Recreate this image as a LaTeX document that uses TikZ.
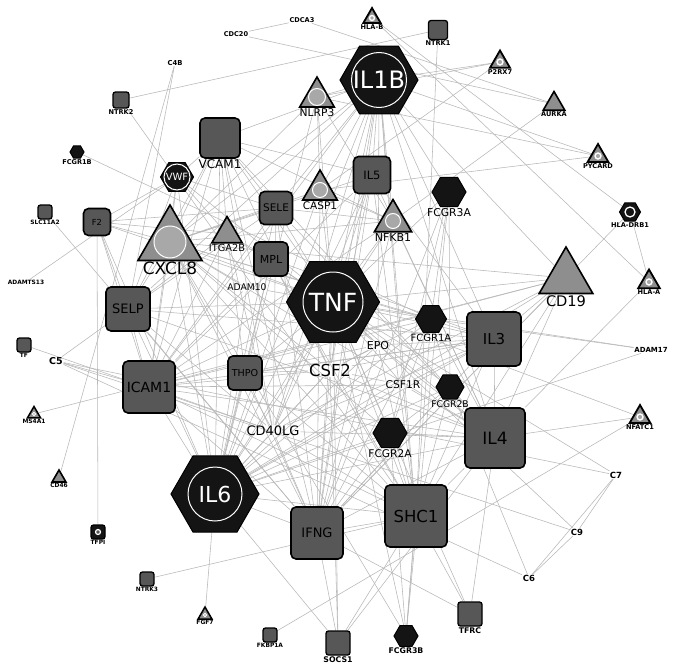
\documentclass[tikz,border=0pt]{standalone}
\usepackage{fontspec}
\setmainfont{DejaVu Sans}
\usetikzlibrary{shapes.geometric, backgrounds}

\newcommand{\fsz}[1]{\fontsize{#1}{#1}\selectfont}
\definecolor{hexblk}{HTML}{141414}
\definecolor{sqgray}{HTML}{575757}
\definecolor{trigray}{HTML}{8E8E8E}
\definecolor{spotgray}{HTML}{A8A8A8}
\definecolor{linkgray}{HTML}{B8B8B8}

\begin{document}
\begin{tikzpicture}[
    x=1pt, y=-1pt,
    link/.style={draw=linkgray, line width=0.55pt},
    hexa/.style={
        regular polygon,
        regular polygon sides=6,
        fill=hexblk,
        draw=black,
        line width=1pt,
        inner sep=0pt,
        minimum size=#1
    },
    sq/.style={
        rectangle,
        rounded corners=5pt,
        fill=sqgray,
        draw=black,
        line width=1.6pt,
        inner sep=0pt,
        minimum size=#1
    },
    sqs/.style={sq=#1, rounded corners=2.5pt, line width=1.3pt},
    tri/.style={
        regular polygon,
        regular polygon sides=3,
        fill=trigray,
        draw=black,
        line width=1.6pt,
        inner sep=0pt,
        minimum size=#1
    },
    ring/.style={circle, draw=white, line width=1pt, fill=spotgray, inner sep=0pt, minimum size=#1},
    spot/.style={circle, draw=white, line width=1.4pt, fill=spotgray, inner sep=0pt, minimum size=#1},
    hubtxt/.style={circle, draw=white, line width=1pt, text=white, inner sep=0pt, minimum size=#1},
    lab/.style={font=\bfseries\fsz{6.6}, inner sep=0.6pt},
    big/.style={font=\fsz{#1}, inner sep=0.8pt}
]

\useasboundingbox (0,0) rectangle (677,669);

% --- Hexagons
\node[hexa=78pt, label={[hubtxt=55pt, font=\fsz{24}]center:IL1B}] (il1b) at (379,80) {};
\node[hexa=93pt, label={[hubtxt=60pt, font=\fsz{25}]center:TNF}] (tnf) at (333,302) {};
\node[hexa=88pt, label={[hubtxt=54pt, font=\fsz{22}]center:IL6}] (il6) at (215,494) {};
\node[hexa=33pt, label={[hubtxt=26pt, font=\fsz{10}]center:VWF}] (vwf) at (177,177) {};
\node[hexa=34pt, label={[big=10.8]below:FCGR3A}] (fcgr3a) at (449,192) {};
\node[hexa=31pt, label={[big=10]below:FCGR1A}] (fcgr1a) at (431,319) {};
\node[hexa=28pt, label={[big=9.2]below:FCGR2B}] (fcgr2b) at (450,387) {};
\node[hexa=34pt, label={[big=10.6]below:FCGR2A}] (fcgr2a) at (390,433) {};
\node[hexa=24pt, label={[lab, font=\bfseries\fsz{7.8}]below:FCGR3B}] (fcgr3b) at (406,636) {};
\node[hexa=14pt, label={[lab]below:FCGR1B}] (fcgr1b) at (77,152) {};
\node[hexa=21pt, label={[circle, draw=white, line width=1.3pt, fill=hexblk, inner sep=0pt, minimum size=10pt]center:{}},
      label={[lab]below:HLA-DRB1}] (hladrb) at (630,212) {};

% --- Triangles
\node[tri=74pt, label={[ring=32pt]center:{}}, label={[big=17]below:CXCL8}] (cxcl8) at (170,242) {};
\node[tri=40pt, label={[ring=17pt]center:{}}, label={[big=10.7]below:NLRP3}] (nlrp3) at (317,97) {};
\node[tri=40pt, label={[ring=15pt]center:{}}, label={[big=10.5]below:CASP1}] (casp1) at (320,190) {};
\node[tri=43pt, label={[ring=15pt]center:{}}, label={[big=11]below:NFKB1}] (nfkb1) at (393,221) {};
\node[tri=35pt, label={[big=9.8]below:ITGA2B}] (itga2b) at (227,234) {};
\node[tri=62pt, label={[big=14.6]below:CD19}] (cd19) at (566,278) {};
\node[tri=25pt, label={[lab]below:AURKA}] (aurka) at (554,104) {};
\node[tri=16pt, label={[lab, font=\bfseries\fsz{5.9}]below:CD46}] (cd46) at (59,478) {};
\node[tri=20pt, line width=1.8pt, label={[spot=5pt]center:{}}, label={[lab]below:HLA-B}] (hlab) at (372,18) {};
\node[tri=23pt, line width=1.8pt, label={[spot=6pt]center:{}}, label={[lab]below:P2RX7}] (p2rx7) at (500,62) {};
\node[tri=24pt, line width=1.8pt, label={[spot=6pt]center:{}}, label={[lab]below:PYCARD}] (pycard) at (598,156) {};
\node[tri=25pt, line width=1.8pt, label={[spot=6pt]center:{}}, label={[lab]below:HLA-A}] (hlaa) at (649,282) {};
\node[tri=24pt, line width=1.8pt, label={[spot=6pt]center:{}}, label={[lab]below:NFATC1}] (nfatc1) at (640,417) {};
\node[tri=15pt, line width=1.5pt, label={[spot=3.5pt, line width=1pt]center:{}}, label={[lab, font=\bfseries\fsz{5.9}]below:MS4A1}] (ms4a1) at (34,414) {};
\node[tri=16pt, line width=1.5pt, label={[spot=3.5pt, line width=1pt]center:{}}, label={[lab, font=\bfseries\fsz{5.9}]below:FGF7}] (fgf7) at (205,615) {};

% --- Squares
\node[sq=40pt, label={[big=12]below:VCAM1}] (vcam1) at (220,138) {};
\node[sq=27pt, font=\fsz{8.3}] (f2) at (97,222) {F2};
\node[sq=33pt, font=\fsz{10.5}] (sele) at (276,208) {SELE};
\node[sq=37pt, font=\fsz{11.5}] (il5) at (372,175) {IL5};
\node[sq=34pt, font=\fsz{11}] (mpl) at (271,259) {MPL};
\node[sq=44pt, font=\fsz{13}] (selp) at (128,309) {SELP};
\node[sq=52pt, font=\fsz{14}] (icam1) at (149,387) {ICAM1};
\node[sq=34pt, font=\fsz{9.6}] (thpo) at (245,373) {THPO};
\node[sq=54pt, font=\fsz{15}] (il3) at (494,339) {IL3};
\node[sq=60pt, font=\fsz{17}] (il4) at (495,438) {IL4};
\node[sq=52pt, font=\fsz{13}] (ifng) at (317,533) {IFNG};
\node[sq=62pt, font=\fsz{16.5}] (shc1) at (416,516) {SHC1};
\node[sqs=16pt, label={[lab]below:NTRK2}] (ntrk2) at (121,100) {};
\node[sqs=19pt, label={[lab]below:NTRK1}] (ntrk1) at (438,30) {};
\node[sqs=14pt, label={[lab, font=\bfseries\fsz{5.9}]below:SLC11A2}] (slc) at (45,212) {};
\node[sqs=14pt, label={[lab, font=\bfseries\fsz{5.9}]below:TF}] (tf) at (24,345) {};
\node[sqs=14pt, label={[lab, font=\bfseries\fsz{5.9}]below:NTRK3}] (ntrk3) at (147,579) {};
\node[sqs=14pt, fill=hexblk, label={[spot=5pt, line width=1.2pt, fill=sqgray]center:{}},
      label={[lab, font=\bfseries\fsz{5.9}]below:TFPI}] (tfpi) at (98,532) {};
\node[sqs=14pt, label={[lab, font=\bfseries\fsz{5.9}]below:FKBP1A}] (fkbp) at (270,635) {};
\node[sqs=24pt, label={[lab, font=\bfseries\fsz{7.8}]below:SOCS1}] (socs1) at (338,643) {};
\node[sqs=24pt, label={[lab, font=\bfseries\fsz{7.8}]below:TFRC}] (tfrc) at (470,614) {};

% --- Plain labels
\node[lab] (cdca3) at (302,20) {CDCA3};
\node[lab] (cdc20) at (236,34) {CDC20};
\node[lab, font=\bfseries\fsz{6.8}] (c4b) at (175,63) {C4B};
\node[lab, font=\bfseries\fsz{5.9}] (adamts) at (26,282) {ADAMTS13};
\node[big=9.2] (adam10) at (247,287) {ADAM10};
\node[lab, font=\bfseries\fsz{9.5}] (c5) at (56,361) {C5};
\node[big=13] (cd40lg) at (273,431) {CD40LG};
\node[big=16.5] (csf2) at (330,370) {CSF2};
\node[big=11] (epo) at (378,345) {EPO};
\node[big=10.7] (csf1r) at (403,385) {CSF1R};
\node[lab, font=\bfseries\fsz{7}] (adam17) at (651,350) {ADAM17};
\node[lab, font=\bfseries\fsz{8.5}] (c7) at (616,475) {C7};
\node[lab, font=\bfseries\fsz{8.5}] (c9) at (577,532) {C9};
\node[lab, font=\bfseries\fsz{8.5}] (c6) at (529,578) {C6};

% --- Interactions
\begin{scope}[on background layer]
\fill[white] (0,0) rectangle (677,669);
\foreach \a/\b in {cdca3/cdc20,cdca3/aurka,cdc20/aurka,ntrk2/ntrk1,ntrk2/shc1,c4b/cd46,c4b/selp,
    fcgr1b/fcgr1a,adamts/vwf,slc/ifng,tf/cd40lg,tfpi/f2,hlab/hlaa,hlab/hladrb,
    hladrb/hlaa,hladrb/ifng,hlaa/il4,nfatc1/il4,nfatc1/tnf,fkbp/nfatc1,
    adam17/tnf,adam17/il6,adam17/fcgr1a,pycard/il1b,pycard/nlrp3,pycard/casp1,aurka/nfkb1,
    p2rx7/il1b,p2rx7/nlrp3,p2rx7/casp1,ntrk1/shc1,ms4a1/cd19,fgf7/il6,ntrk3/shc1,
    socs1/il6,socs1/ifng,socs1/il4,socs1/shc1,socs1/csf2,socs1/tnf,
    fcgr3b/fcgr3a,fcgr3b/fcgr2a,fcgr3b/shc1,fcgr3b/tnf,fcgr3b/cxcl8,fcgr3b/fcgr1a,
    tfrc/ifng,tfrc/shc1,tfrc/il4,tfrc/tnf,c5/c6,c5/c7,c5/c9,c6/c7,c6/c9,c7/c9,
    c5/selp,c5/icam1,c6/fcgr2b,c9/tnf,c7/tnf,
    cd19/il1b,cd19/tnf,cd19/il4,cd19/il6,cd19/il3,cd19/cd40lg,cd19/icam1,cd19/cxcl8,cd19/shc1,cd19/ifng}
    \draw[link] (\a) -- (\b);
\foreach \a/\b in {il1b/tnf,il1b/il6,il1b/cxcl8,il1b/icam1,il1b/vcam1,il1b/sele,il1b/selp,il1b/il4,
    il1b/il5,il1b/il3,il1b/ifng,il1b/csf2,il1b/nfkb1,il1b/cd40lg,il1b/shc1,il1b/nlrp3,il1b/casp1,
    il1b/csf1r,il1b/fcgr3a,il1b/epo,
    tnf/il6,tnf/cxcl8,tnf/icam1,tnf/vcam1,tnf/sele,tnf/selp,tnf/il4,tnf/il5,tnf/il3,tnf/ifng,
    tnf/csf2,tnf/nfkb1,tnf/casp1,tnf/cd40lg,tnf/shc1,tnf/fcgr1a,tnf/fcgr2a,tnf/fcgr2b,tnf/fcgr3a,
    tnf/epo,tnf/adam10,tnf/nlrp3,tnf/thpo,tnf/csf1r,tnf/vwf,tnf/f2,tnf/itga2b,
    il6/cxcl8,il6/icam1,il6/vcam1,il6/sele,il6/selp,il6/il4,il6/il5,il6/il3,il6/ifng,il6/csf2,
    il6/nfkb1,il6/casp1,il6/cd40lg,il6/shc1,il6/fcgr1a,il6/fcgr2a,il6/fcgr2b,il6/epo,il6/thpo,
    il6/mpl,il6/nlrp3,il6/adam10,il6/csf1r,il6/vwf,il6/f2,
    cxcl8/icam1,cxcl8/vcam1,cxcl8/sele,cxcl8/selp,cxcl8/il4,cxcl8/il5,cxcl8/il3,cxcl8/ifng,
    cxcl8/csf2,cxcl8/nfkb1,cxcl8/casp1,cxcl8/cd40lg,cxcl8/shc1,cxcl8/fcgr1a,cxcl8/fcgr2a,
    cxcl8/nlrp3,cxcl8/adam10,cxcl8/vwf,cxcl8/f2,
    icam1/vcam1,icam1/sele,icam1/selp,icam1/il4,icam1/il5,icam1/il3,icam1/ifng,icam1/csf2,
    icam1/nfkb1,icam1/cd40lg,icam1/shc1,icam1/fcgr1a,icam1/itga2b,icam1/adam10,icam1/csf1r,
    icam1/f2,icam1/vwf,
    vcam1/sele,vcam1/selp,vcam1/il4,vcam1/il5,vcam1/ifng,vcam1/nfkb1,vcam1/cd40lg,vcam1/itga2b,
    vcam1/csf2,vcam1/vwf,
    sele/selp,sele/ifng,sele/nfkb1,sele/cd40lg,sele/il4,sele/vwf,sele/f2,
    selp/ifng,selp/il4,selp/cd40lg,selp/itga2b,selp/vwf,selp/f2,selp/il3,
    il4/ifng,il4/shc1,il4/il5,il4/il3,il4/csf2,il4/cd40lg,il4/nfkb1,il4/fcgr1a,il4/fcgr2a,
    il4/fcgr2b,il4/csf1r,il4/epo,
    il5/il3,il5/csf2,il5/ifng,il5/cd40lg,il5/shc1,
    il3/csf2,il3/ifng,il3/shc1,il3/cd40lg,il3/thpo,il3/epo,il3/csf1r,il3/mpl,
    ifng/shc1,ifng/csf2,ifng/cd40lg,ifng/nfkb1,ifng/casp1,ifng/fcgr1a,ifng/fcgr2a,ifng/fcgr2b,
    ifng/fcgr3a,ifng/epo,ifng/thpo,
    shc1/csf2,shc1/cd40lg,shc1/csf1r,shc1/epo,shc1/thpo,shc1/mpl,shc1/fcgr2a,shc1/fcgr2b,
    csf2/cd40lg,csf2/csf1r,csf2/fcgr1a,csf2/epo,csf2/thpo,csf2/mpl,
    mpl/thpo,mpl/epo,mpl/itga2b,thpo/epo,thpo/itga2b,itga2b/f2,itga2b/vwf,itga2b/cd40lg,
    fcgr3a/fcgr2a,fcgr3a/fcgr1a,fcgr3a/fcgr2b,fcgr1a/fcgr2a,fcgr1a/fcgr2b,fcgr2a/fcgr2b,
    nlrp3/casp1,nlrp3/nfkb1,casp1/nfkb1,vwf/f2}
    \draw[link] (\a) -- (\b);
\end{scope}

\end{tikzpicture}
\end{document}
